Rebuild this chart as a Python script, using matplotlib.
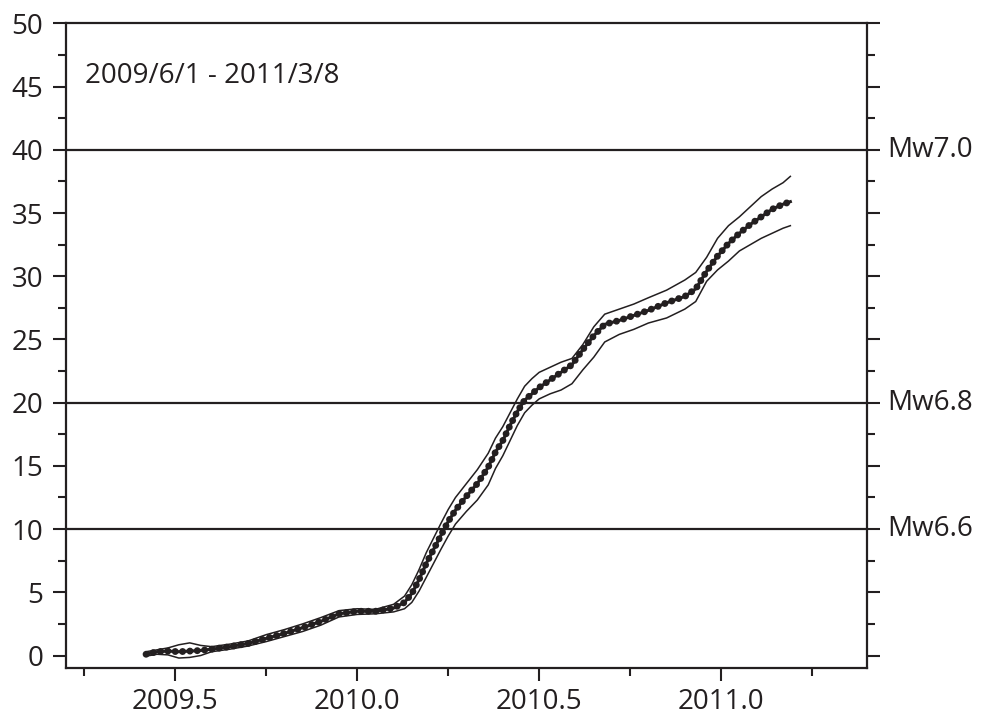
import matplotlib.pyplot as plt
import matplotlib.transforms as mtransforms
from matplotlib.ticker import MultipleLocator

plt.rcParams['font.family'] = ['Open Sans', 'DejaVu Sans']

INK = '#231f20'

# decimal year
years = [2009.42, 2009.45, 2009.48, 2009.51, 2009.54, 2009.57, 2009.60, 2009.65,
         2009.70, 2009.75, 2009.80, 2009.85, 2009.90, 2009.95, 2010.00, 2010.05,
         2010.10, 2010.13, 2010.15, 2010.17, 2010.19, 2010.21, 2010.23, 2010.25,
         2010.27, 2010.30, 2010.33, 2010.36, 2010.38, 2010.40, 2010.42, 2010.44,
         2010.46, 2010.48, 2010.50, 2010.53, 2010.56, 2010.59, 2010.62, 2010.65,
         2010.68, 2010.72, 2010.76, 2010.80, 2010.85, 2010.90, 2010.93, 2010.96,
         2010.99, 2011.02, 2011.05, 2011.08, 2011.11, 2011.14, 2011.17, 2011.19]

center = [0.10, 0.30, 0.35, 0.30, 0.35, 0.40, 0.50, 0.70,
          0.95, 1.35, 1.75, 2.20, 2.70, 3.30, 3.50, 3.50,
          3.75, 4.20, 4.90, 6.00, 7.30, 8.40, 9.50, 10.60,
          11.50, 12.60, 13.60, 14.90, 16.10, 17.00, 18.20, 19.30,
          20.20, 20.70, 21.20, 21.80, 22.40, 23.00, 24.20, 25.30,
          26.20, 26.50, 26.90, 27.30, 27.90, 28.40, 29.00, 30.40,
          31.60, 32.60, 33.40, 34.10, 34.70, 35.30, 35.70, 35.90]

upper = [0.30, 0.45, 0.60, 0.85, 1.00, 0.80, 0.70, 0.90,
         1.15, 1.65, 2.05, 2.50, 3.00, 3.55, 3.70, 3.65,
         4.05, 4.70, 5.60, 6.80, 8.15, 9.30, 10.45, 11.55,
         12.50, 13.60, 14.70, 16.00, 17.20, 18.10, 19.20, 20.30,
         21.30, 21.90, 22.40, 22.80, 23.20, 23.50, 24.60, 26.00,
         27.00, 27.40, 27.80, 28.30, 28.90, 29.70, 30.30, 31.50,
         33.00, 34.00, 34.70, 35.50, 36.30, 36.90, 37.40, 37.90]

lower = [-0.05, 0.10, 0.05, -0.20, -0.15, 0.00, 0.30, 0.50,
         0.75, 1.10, 1.50, 1.90, 2.40, 3.05, 3.25, 3.30,
         3.45, 3.70, 4.20, 5.10, 6.20, 7.30, 8.40, 9.45,
         10.40, 11.40, 12.30, 13.50, 14.80, 15.80, 17.00, 18.20,
         19.20, 19.80, 20.30, 20.70, 21.00, 21.50, 22.60, 23.60,
         24.80, 25.40, 25.80, 26.30, 26.70, 27.40, 28.00, 29.60,
         30.50, 31.20, 32.00, 32.50, 33.00, 33.40, 33.80, 34.00]

mw_levels = [40, 20, 10]
mw_labels = ['Mw7.0', 'Mw6.8', 'Mw6.6']
period_label = '2009/6/1 - 2011/3/8'

fig = plt.figure(figsize=(9.85, 7.2), dpi=100)
ax = fig.add_axes([0.067, 0.072, 0.813, 0.8955])

for lev in mw_levels:
  ax.axhline(lev, color=INK, lw=1.6, zorder=1)

ax.plot(years, upper, color=INK, lw=1.1, zorder=2)
ax.plot(years, lower, color=INK, lw=1.1, zorder=2)
# thick dotted centre series: core line plus round dots
ax.plot(years, center, color=INK, lw=2.2, zorder=3)
ax.plot(years, center, color=INK, lw=5.0, linestyle=(0, (0.01, 1.05)),
        dash_capstyle='round', zorder=3)

ax.set_xlim(2009.2, 2011.4)
ax.set_ylim(-1, 50)

ax.xaxis.set_major_locator(MultipleLocator(0.5))
ax.xaxis.set_minor_locator(MultipleLocator(0.25))
ax.yaxis.set_major_locator(MultipleLocator(5))
ax.yaxis.set_minor_locator(MultipleLocator(2.5))
ax.xaxis.set_major_formatter(lambda v, p: f"{v:.1f}")

for s in ax.spines.values():
  s.set_linewidth(1.6)
  s.set_color(INK)

ax.tick_params(which='both', direction='out', width=1.5, color=INK,
               left=True, right=True, top=False, bottom=True,
               labelright=False, labelsize=20, labelcolor=INK)
ax.tick_params(which='major', length=9.5)
ax.tick_params(which='minor', length=5.5)
ax.tick_params(axis='y', which='major', pad=7)
ax.tick_params(axis='x', which='major', pad=5)

trans = mtransforms.blended_transform_factory(ax.transAxes, ax.transData)
for lev, lab in zip(mw_levels, mw_labels):
  ax.text(1.026, lev, lab, transform=trans, va='center', ha='left',
          fontsize=20, color=INK)

ax.text(0.024, 45.8, period_label, transform=trans, va='center', ha='left',
        fontsize=20, color=INK)

fig.savefig('out.png', dpi=100)
